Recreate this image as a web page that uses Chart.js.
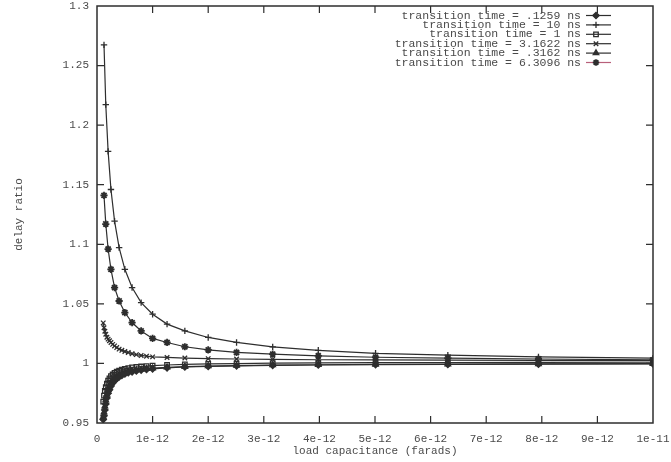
<!DOCTYPE html>
<html>
<head>
<meta charset="utf-8">
<script src="https://cdn.jsdelivr.net/npm/chart.js@4.4.1/dist/chart.umd.min.js"></script>
<style>
    body { margin: 0; background: #fff; }
    #wrap { width: 671px; height: 462px; }
</style>
</head>
<body>
<div id="wrap"><canvas id="delayChart" width="671" height="462"></canvas></div>
<script>
// load capacitance, in pF (axis labels show farads)
const capCoarse = [0.126, 0.158, 0.2, 0.251, 0.316, 0.398, 0.501, 0.631, 0.794, 1.0,
    1.26, 1.58, 2.0, 2.51, 3.16, 3.98, 5.01, 6.31, 7.94, 10.0];
const capFine = [0.112, 0.126, 0.141, 0.158, 0.178, 0.2, 0.224, 0.251, 0.282, 0.316,
    0.355, 0.398, 0.447, 0.501, 0.562, 0.631, 0.708, 0.794, 0.891, 1.0,
    1.26, 1.58, 2.0, 2.51, 3.16, 3.98, 5.01, 6.31, 7.94, 10.0];

// delay ratio per transition time
const ratio10ns = [1.2674, 1.2172, 1.178, 1.146, 1.1194, 1.0972, 1.079, 1.0637, 1.051, 1.0413,
    1.033, 1.0273, 1.0218, 1.0176, 1.0139, 1.011, 1.0085, 1.007, 1.0055, 1.0044];
const ratio6ns = [1.141, 1.117, 1.096, 1.079, 1.0636, 1.0524, 1.0427, 1.0343, 1.0273, 1.021,
    1.0176, 1.014, 1.0114, 1.0092, 1.0078, 1.0064, 1.0052, 1.0044, 1.0037, 1.003];
const ratio3ns = [1.034, 1.030, 1.027, 1.0245, 1.022, 1.0204, 1.019, 1.0176, 1.016, 1.0147,
    1.0133, 1.012, 1.011, 1.0100, 1.0092, 1.0082, 1.0074, 1.0067, 1.0061, 1.0055,
    1.005, 1.0045, 1.004, 1.0037, 1.0034, 1.0031, 1.0029, 1.0027, 1.0025, 1.0024];
const ratio1ns = [0.968, 0.973, 0.977, 0.980, 0.983, 0.9855, 0.9875, 0.9893, 0.9907, 0.992,
    0.993, 0.994, 0.9948, 0.9955, 0.9961, 0.9966, 0.997, 0.9974, 0.9978, 0.9981,
    0.9987, 0.9992, 0.9996, 0.9999, 1.0002, 1.0004, 1.0006, 1.0008, 1.0009, 1.001];
const ratio03ns = [0.955, 0.959, 0.964, 0.969, 0.974, 0.978, 0.981, 0.9835, 0.9857, 0.9875,
    0.989, 0.9903, 0.9914, 0.9924, 0.9932, 0.9939, 0.9945, 0.995, 0.9955, 0.996,
    0.9967, 0.9973, 0.9978, 0.9982, 0.9986, 0.9989, 0.9992, 0.9994, 0.9996, 0.9998];
const ratio01ns = [0.953, 0.956, 0.961, 0.966, 0.971, 0.975, 0.978, 0.981, 0.9835, 0.9855,
    0.9872, 0.9888, 0.990, 0.9912, 0.9922, 0.993, 0.9937, 0.9944, 0.995, 0.9955,
    0.9963, 0.997, 0.9975, 0.998, 0.9984, 0.9987, 0.999, 0.9992, 0.9994, 0.9996];

const xTickLabels = ['0', '1e-12', '2e-12', '3e-12', '4e-12', '5e-12', '6e-12', '7e-12', '8e-12', '9e-12', '1e-11'];
const yTickLabels = ['0.95', '1', '1.05', '1.1', '1.15', '1.2', '1.25', '1.3'];

const FONT = '"Liberation Mono", "DejaVu Sans Mono", monospace';
const INK = '#2e2e2e';
const TEXT = '#4a4a4a';

function pts(xs, ys) {
    return xs.map((x, i) => ({ x: x, y: ys[i] }));
}

function serie(label, xs, ys, style, fill, legendColor) {
    return {
        label: label,
        data: pts(xs, ys),
        showLine: true,
        borderColor: INK,
        borderWidth: 1.2,
        pointStyle: style,
        pointRadius: style === 'star' ? 3.6 : 3.2,
        pointBorderWidth: style === 'star' ? 1.8 : 1.3,
        pointBorderColor: INK,
        pointBackgroundColor: fill ? INK : 'rgba(0,0,0,0)',
        legendColor: legendColor || INK
    };
}

const datasets = [
    serie('transition time = .1259 ns', capFine, ratio01ns, 'rectRot', true),
    serie('transition time = 10 ns', capCoarse, ratio10ns, 'cross', false),
    serie('transition time = 1 ns', capFine, ratio1ns, 'rect', false),
    serie('transition time = 3.1622 ns', capFine, ratio3ns, 'crossRot', false),
    serie('transition time = .3162 ns', capFine, ratio03ns, 'triangle', true),
    serie('transition time = 6.3096 ns', capCoarse, ratio6ns, 'star', true, '#b8607a')
];

// marco, ticks hacia dentro y leyenda estilo gnuplot
const gnuplotFrame = {
    id: 'gnuplotFrame',
    afterDraw(chart) {
        const c = chart.ctx;
        const a = chart.chartArea;
        const xs = chart.scales.x;
        const ys = chart.scales.y;
        c.save();
        c.strokeStyle = INK;
        c.lineWidth = 1.5;
        c.strokeRect(a.left, a.top, a.right - a.left, a.bottom - a.top);

        c.lineWidth = 1.2;
        c.beginPath();
        for (let i = 1; i < xTickLabels.length - 1; i++) {
            const px = xs.getPixelForValue(i);
            c.moveTo(px, a.bottom); c.lineTo(px, a.bottom - 7);
            c.moveTo(px, a.top); c.lineTo(px, a.top + 7);
        }
        for (let i = 1; i < yTickLabels.length - 1; i++) {
            const py = ys.getPixelForValue(0.95 + i * 0.05);
            c.moveTo(a.left, py); c.lineTo(a.left + 7, py);
            c.moveTo(a.right, py); c.lineTo(a.right - 7, py);
        }
        c.stroke();

        // leyenda
        c.font = '11.5px ' + FONT;
        c.textAlign = 'right';
        c.textBaseline = 'middle';
        chart.data.datasets.forEach((ds, i) => {
            const y = a.top + 9.5 + i * 9.4;
            c.fillStyle = TEXT;
            c.fillText(ds.label, 581, y);
            c.strokeStyle = ds.legendColor;
            c.lineWidth = 1.2;
            c.beginPath();
            c.moveTo(586, y); c.lineTo(611, y);
            c.stroke();
            c.strokeStyle = INK;
            c.fillStyle = ds.pointBackgroundColor;
            c.lineWidth = ds.pointBorderWidth;
            if (Chart.helpers && Chart.helpers.drawPoint) {
                Chart.helpers.drawPoint(c, { pointStyle: ds.pointStyle, radius: 3.2, borderWidth: ds.pointBorderWidth }, 596, y);
            }
        });
        c.restore();
    }
};

const ctx = document.getElementById('delayChart').getContext('2d');
new Chart(ctx, {
    type: 'scatter',
    data: { datasets: datasets },
    options: {
        responsive: false,
        animation: false,
        layout: { padding: { left: 0, right: 18, top: 6, bottom: 0 } },
        plugins: {
            legend: { display: false },
            tooltip: { enabled: false }
        },
        scales: {
            x: {
                type: 'linear',
                min: 0,
                max: 10,
                afterFit(scale) {
                    scale.height = 39;
                    scale.paddingLeft = 0;
                    scale.paddingRight = 0;
                },
                grid: { display: false, drawTicks: false },
                border: { display: false },
                ticks: {
                    stepSize: 1,
                    padding: 9,
                    maxRotation: 0,
                    color: TEXT,
                    font: { family: FONT, size: 11 },
                    callback: (v) => xTickLabels[Math.round(v)]
                },
                title: {
                    display: true,
                    text: 'load capacitance (farads)',
                    color: TEXT,
                    font: { family: FONT, size: 11 },
                    padding: { top: 0, bottom: 4 }
                }
            },
            y: {
                type: 'linear',
                min: 0.95,
                max: 1.3,
                afterFit(scale) {
                    scale.width = 97;
                    scale.paddingTop = 0;
                    scale.paddingBottom = 0;
                },
                grid: { display: false, drawTicks: false },
                border: { display: false },
                ticks: {
                    stepSize: 0.05,
                    padding: 8,
                    color: TEXT,
                    font: { family: FONT, size: 11 },
                    callback: (v) => yTickLabels[Math.round((v - 0.95) / 0.05)]
                },
                title: {
                    display: true,
                    text: 'delay ratio',
                    color: TEXT,
                    font: { family: FONT, size: 11 },
                    padding: { top: 12, bottom: 0 }
                }
            }
        }
    },
    plugins: [gnuplotFrame]
});
</script>
</body>
</html>
